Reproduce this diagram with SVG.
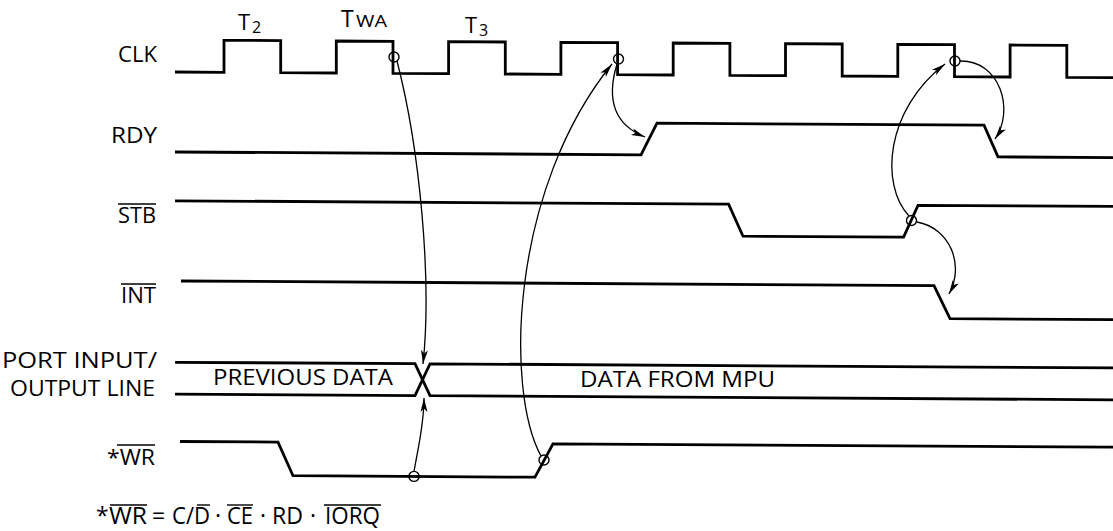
<svg xmlns="http://www.w3.org/2000/svg" width="1113" height="531" viewBox="0 0 1113 531">
<style>
  text { font-family: "Open Sans", "Noto Sans", "Liberation Sans", sans-serif; fill: #000; }
  .lbl { font-size: 22px; }
  .f { font-size: 23px; }
  .wave { fill: none; stroke: #000; stroke-width: 2.8; stroke-linejoin: miter; }
  .ov { stroke: #000; stroke-width: 1.4; }
  .arr { fill: none; stroke: #000; stroke-width: 1.3; marker-end: url(#ah); }
  .circ { fill: none; stroke: #000; stroke-width: 1.4; }
</style>
<defs>
  <marker id="ah" markerUnits="userSpaceOnUse" markerWidth="15" markerHeight="9" refX="14" refY="4.5" orient="auto">
    <path d="M0,1 L14,4.5 L0,8 L3.5,4.5 z" fill="#000"/>
  </marker>
</defs>
<rect width="1113" height="531" fill="#fff"/>

<g id="clk">
  <text class="lbl" x="118" y="62" textLength="39" lengthAdjust="spacingAndGlyphs">CLK</text>
  <text x="238" y="30" font-size="22">T</text>
  <text x="252" y="33" font-size="16">2</text>
  <text x="341" y="27" font-size="23">T</text>
  <text x="356" y="27" font-size="17" textLength="31" lengthAdjust="spacingAndGlyphs">WA</text>
  <text x="465" y="33" font-size="22">T</text>
  <text x="479" y="36" font-size="16">3</text>
  <path class="wave" d="M175,72 L224,72.3 L224,40.3 L280.7,40.6 L280.7,72.6 L336.3,73 L336.3,41 L393,41.3 L393,73.3 L448.6,73.6 L448.6,41.6 L505.3,42 L505.3,74 L560.9,74.3 L560.9,42.3 L617.6,42.7 L617.6,74.7 L673.2,75 L673.2,43 L729.9,43.3 L729.9,75.3 L785.5,75.7 L785.5,43.7 L842.2,44 L842.2,76 L897.8,76.3 L897.8,44.3 L954.5,44.7 L954.5,76.7 L1010.1,77 L1010.1,45 L1066.8,45.4 L1066.8,77.4 L1113,77.6"/>
</g>

<g id="rdy">
  <text class="lbl" x="111" y="143" textLength="46" lengthAdjust="spacingAndGlyphs">RDY</text>
  <path class="wave" d="M175,152 L641,154.8 L657,123.2 L984,125.2 L998,156.9 L1113,157.6"/>
</g>

<g id="stb">
  <text class="lbl" x="118" y="223" textLength="38" lengthAdjust="spacingAndGlyphs">STB</text>
  <line class="ov" x1="118" y1="204" x2="156" y2="204"/>
  <path class="wave" d="M175,200.8 L728.6,204.1 L743,236.2 L903.6,237.2 L918,205.3 L1113,206.4"/>
</g>

<g id="int">
  <text class="lbl" x="121" y="303" textLength="35" lengthAdjust="spacingAndGlyphs">INT</text>
  <line class="ov" x1="121" y1="284" x2="156" y2="284"/>
  <path class="wave" d="M181,281 L934,285.6 L950,318.7 L1113,319.6"/>
</g>

<g id="port">
  <text class="lbl" x="2" y="368" textLength="155" lengthAdjust="spacingAndGlyphs">PORT INPUT/</text>
  <text class="lbl" x="10" y="396" textLength="145" lengthAdjust="spacingAndGlyphs">OUTPUT LINE</text>
  <text class="lbl" x="213" y="385" textLength="180" lengthAdjust="spacingAndGlyphs">PREVIOUS DATA</text>
  <text class="lbl" x="580" y="387" textLength="195" lengthAdjust="spacingAndGlyphs">DATA FROM MPU</text>
  <path class="wave" d="M175,362.3 L415,363.7 L430,395.7 L1113,399.8"/>
  <path class="wave" d="M175,394.2 L415,395.6 L430,363.8 L1113,367.9"/>
</g>

<g id="wr">
  <text class="lbl" x="107" y="465" textLength="48" lengthAdjust="spacingAndGlyphs">*WR</text>
  <line class="ov" x1="117" y1="445" x2="155" y2="445"/>
  <path class="wave" d="M180,441.5 L278,442.1 L293,475.7 L535,477.2 L553,443.8 L1113,447.1"/>
</g>

<g id="formula">
  <text class="f" x="96" y="524">*</text>
  <text class="f" x="109" y="524" textLength="38" lengthAdjust="spacingAndGlyphs">WR</text>
  <text class="f" x="152" y="524">=</text>
  <text class="f" x="172" y="524" textLength="38" lengthAdjust="spacingAndGlyphs">C/D</text>
  <text class="f" x="215" y="524">·</text>
  <text class="f" x="227" y="524" textLength="26" lengthAdjust="spacingAndGlyphs">CE</text>
  <text class="f" x="260" y="524">·</text>
  <text class="f" x="272" y="524" textLength="31" lengthAdjust="spacingAndGlyphs">RD</text>
  <text class="f" x="310" y="524">·</text>
  <text class="f" x="325" y="524" textLength="55" lengthAdjust="spacingAndGlyphs">IORQ</text>
  <line class="ov" x1="110" y1="505" x2="147" y2="505"/>
  <line class="ov" x1="197" y1="505" x2="210" y2="505"/>
  <line class="ov" x1="227" y1="505" x2="253" y2="505"/>
  <line class="ov" x1="324" y1="505" x2="381" y2="505"/>
</g>

<g id="connectors">
  <circle class="circ" cx="394" cy="57" r="5"/>
  <circle class="circ" cx="618.5" cy="59" r="5"/>
  <circle class="circ" cx="955" cy="61" r="5"/>
  <circle class="circ" cx="911.5" cy="220.5" r="5"/>
  <circle class="circ" cx="414" cy="476.4" r="5"/>
  <circle class="circ" cx="544" cy="460" r="5"/>
  <path class="arr" d="M397,61 C420,150 432,280 423,364"/>
  <path class="arr" d="M414,471.5 C418,448 424,425 424,398"/>
  <path class="arr" d="M541,456 C505,390 510,190 612,64"/>
  <path class="arr" d="M617,64 C606,100 615,125 645,137"/>
  <path class="arr" d="M960,61 C1000,60 1015,110 995,139"/>
  <path class="arr" d="M909,216 C880,185 885,110 945,64"/>
  <path class="arr" d="M917,222 C950,228 965,265 949,294"/>
</g>
</svg>
